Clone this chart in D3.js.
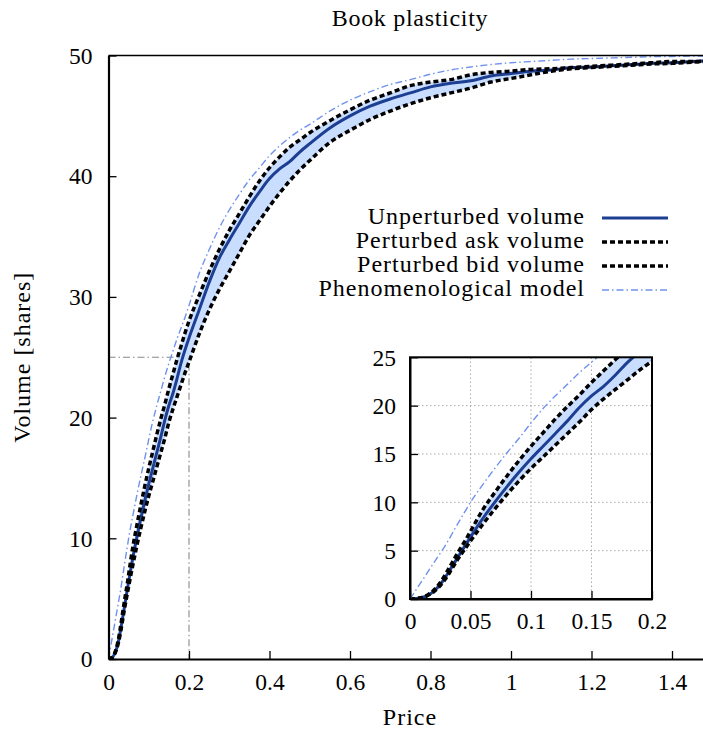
<!DOCTYPE html>
<html><head><meta charset="utf-8">
<script src="https://cdn.jsdelivr.net/npm/d3@7"></script>
<style>
html,body{margin:0;padding:0;background:#fff;}
svg{display:block;}
svg text{font-family:"Liberation Serif","DejaVu Serif",serif !important;}
</style></head><body>
<svg id="c" width="703" height="729"></svg>
<script>
// ---- data ----
const price = [0, 0.005, 0.01, 0.015, 0.02, 0.025, 0.03, 0.035, 0.04, 0.045, 0.05,
  0.06, 0.07, 0.08, 0.09, 0.1, 0.11, 0.12, 0.13, 0.14, 0.15, 0.16, 0.17, 0.18, 0.19, 0.2,
  0.225, 0.25, 0.275, 0.3, 0.325, 0.35, 0.375, 0.4, 0.425, 0.45, 0.475, 0.5,
  0.55, 0.6, 0.65, 0.7, 0.75, 0.8, 0.85, 0.9, 0.95, 1.0, 1.05, 1.1, 1.15, 1.2, 1.25, 1.3, 1.35, 1.4, 1.45, 1.5];
const unperturbed = [0, 0.05, 0.15, 0.4, 0.85, 1.5, 2.4, 3.4, 4.4, 5.4, 6.4,
  8.3, 10.0, 11.6, 13.1, 14.5, 15.8, 17.1, 18.4, 19.8, 21.0, 22.0, 23.2, 24.5, 25.6, 26.6,
  28.9, 31.2, 33.2, 34.7, 36.1, 37.5, 38.7, 39.8, 40.6, 41.2, 42.0, 42.7,
  44.0, 45.0, 45.8, 46.4, 46.9, 47.4, 47.7, 47.9, 48.3, 48.5, 48.7, 48.8, 49.0, 49.05, 49.15, 49.25, 49.35, 49.4, 49.5, 49.6];
const askVolume = [0, 0.05, 0.15, 0.45, 0.95, 1.7, 2.7, 3.8, 4.9, 5.9, 7.0,
  9.2, 11.0, 12.7, 14.3, 15.8, 17.2, 18.6, 19.9, 21.1, 22.4, 23.6, 24.8, 25.9, 27.0, 28.0,
  30.1, 32.1, 33.9, 35.5, 36.9, 38.3, 39.6, 40.7, 41.6, 42.4, 43.0, 43.6,
  44.6, 45.5, 46.3, 46.9, 47.5, 47.8, 48.0, 48.4, 48.6, 48.7, 48.85, 48.9, 49.0, 49.1, 49.2, 49.3, 49.4, 49.5, 49.5, 49.6];
const bidVolume = [0, 0.05, 0.15, 0.4, 0.8, 1.4, 2.2, 3.2, 4.2, 5.1, 6.0,
  7.7, 9.3, 10.8, 12.2, 13.5, 14.7, 15.9, 17.1, 18.3, 19.6, 20.7, 21.7, 22.7, 23.7, 24.6,
  26.9, 28.9, 30.6, 32.1, 33.6, 35.1, 36.3, 37.5, 38.6, 39.6, 40.5, 41.3,
  42.8, 43.8, 44.7, 45.4, 46.0, 46.5, 46.9, 47.3, 47.8, 48.1, 48.4, 48.7, 48.9, 49.0, 49.1, 49.2, 49.3, 49.35, 49.45, 49.55];
const modelVolume = [0, 0.95, 1.9, 2.85, 3.8, 4.75, 5.7, 6.8, 7.9, 8.95, 10.0,
  11.8, 13.5, 15.1, 16.6, 18.2, 19.7, 21.0, 22.2, 23.4, 24.5, 25.5, 26.5, 27.4, 28.3, 29.3,
  31.9, 33.9, 35.7, 37.2, 38.5, 39.7, 40.7, 41.7, 42.5, 43.2, 43.8, 44.3,
  45.4, 46.3, 47.0, 47.6, 48.0, 48.45, 48.8, 49.05, 49.25, 49.4, 49.5, 49.6, 49.7, 49.75, 49.8, 49.85, 49.9, 49.92, 49.95, 49.97];
const xTicks = [0, 0.2, 0.4, 0.6, 0.8, 1, 1.2, 1.4];
const yTicks = [0, 10, 20, 30, 40, 50];
const insetXTicks = [0, 0.05, 0.1, 0.15, 0.2];
const insetYTicks = [0, 5, 10, 15, 20, 25];
const refPrice = 0.2, refVolume = 25;
const legendLabels = ["Unperturbed volume", "Perturbed ask volume", "Perturbed bid volume", "Phenomenological model"];

// ---- styles ----
const FS = 23.5;
const C_FILL = "#c9ddff", C_SOLID = "#1c3f94", C_MODEL = "#6f92ee";
const rows = price.map((p, i) => ({p, u: unperturbed[i], a: askVolume[i], b: bidVolume[i], m: modelVolume[i]}));

const svg = d3.select("#c");
const defs = svg.append("defs");

const x = d3.scaleLinear().domain([0, 1.5]).range([108.5, 712.25]);
const y = d3.scaleLinear().domain([0, 50]).range([659, 55.5]);
const xi = d3.scaleLinear().domain([0, 0.2]).range([410, 652]);
const yi = d3.scaleLinear().domain([0, 25]).range([599, 357.3]);

defs.append("clipPath").attr("id", "cm").append("rect")
  .attr("x", x(0)).attr("y", y(50)).attr("width", x(1.5) - x(0)).attr("height", y(0) - y(50));
defs.append("clipPath").attr("id", "ci").append("rect")
  .attr("x", xi(0)).attr("y", yi(25)).attr("width", xi(0.2) - xi(0)).attr("height", yi(0) - yi(25));

function drawCurves(g, xs, ys) {
  const area = d3.area().x(d => xs(d.p)).y0(d => ys(d.b)).y1(d => ys(d.a)).curve(d3.curveMonotoneX);
  g.append("path").datum(rows).attr("d", area).attr("fill", C_FILL);
  const line = key => d3.line().x(d => xs(d.p)).y(d => ys(d[key])).curve(d3.curveMonotoneX);
  g.append("path").datum(rows).attr("d", line("u")).attr("fill", "none")
    .attr("stroke", C_SOLID).attr("stroke-width", 3);
  ["a", "b"].forEach(k => g.append("path").datum(rows).attr("d", line(k)).attr("fill", "none")
    .attr("stroke", "#000").attr("stroke-width", 3.5).attr("stroke-dasharray", "5,3"));
  g.append("path").datum(rows).attr("d", line("m")).attr("fill", "none")
    .attr("stroke", C_MODEL).attr("stroke-width", 1.4).attr("stroke-dasharray", "7,3,1.5,3");
}

// ---- main plot ----
const gm = svg.append("g").attr("clip-path", "url(#cm)");
gm.append("path")
  .attr("d", `M${x(0)},${y(refVolume)}H${x(refPrice)}V${y(0)}`)
  .attr("fill", "none").attr("stroke", "#888").attr("stroke-width", 1.1)
  .attr("stroke-dasharray", "7,3,1.5,3");
drawCurves(gm, x, y);

// top border
svg.append("line").attr("x1", x(0)).attr("x2", x(1.5)).attr("y1", y(50)).attr("y2", y(50))
  .attr("stroke", "#000").attr("stroke-width", 1.6);

function styleAxis(g, sw) {
  g.attr("font-family", null);
  g.select(".domain").attr("stroke", "#000").attr("stroke-width", sw);
  g.selectAll(".tick line").attr("stroke", "#000").attr("stroke-width", 1.3);
  g.selectAll(".tick text").attr("font-size", FS).attr("fill", "#000");
}
const fmt = d => String(d);
const ax = svg.append("g").attr("transform", `translate(0,${y(0)})`)
  .call(d3.axisBottom(x).tickValues(xTicks).tickFormat(fmt).tickSize(-8).tickSizeOuter(0).tickPadding(14));
styleAxis(ax, 2.2);
const ay = svg.append("g").attr("transform", `translate(${x(0)},0)`)
  .call(d3.axisLeft(y).tickValues(yTicks).tickFormat(fmt).tickSize(-8).tickSizeOuter(0).tickPadding(16));
styleAxis(ay, 2.2);
ay.selectAll(".tick text").attr("dy", "0.33em");

// title and axis labels
const word = sel => sel.attr("font-size", 24).attr("letter-spacing", "1px").attr("fill", "#000");
svg.append("text").attr("x", 410).attr("y", 26).attr("text-anchor", "middle").text("Book plasticity").call(word).attr("letter-spacing", "0.7px");
svg.append("text").attr("x", 410).attr("y", 725).attr("text-anchor", "middle").text("Price").call(word);
svg.append("text").attr("transform", `translate(30,${(y(0) + y(50)) / 2}) rotate(-90)`)
  .attr("text-anchor", "middle").text("Volume [shares]").call(word);

// ---- legend ----
const lg = svg.append("g");
legendLabels.forEach((lab, i) => {
  const cy = 218 + i * 24;
  lg.append("text").attr("x", 585).attr("y", cy + 6).attr("text-anchor", "end").text(lab).call(word);
  const ln = lg.append("line").attr("x1", 602).attr("x2", 668).attr("y1", cy).attr("y2", cy).attr("fill", "none");
  if (i === 0) ln.attr("stroke", C_SOLID).attr("stroke-width", 3);
  else if (i < 3) ln.attr("stroke", "#000").attr("stroke-width", 3.5).attr("stroke-dasharray", "5,3");
  else ln.attr("stroke", C_MODEL).attr("stroke-width", 1.4).attr("stroke-dasharray", "7,3,1.5,3");
});

// ---- inset ----
const gi = svg.append("g");
gi.append("rect").attr("x", xi(0)).attr("y", yi(25)).attr("width", xi(0.2) - xi(0)).attr("height", yi(0) - yi(25)).attr("fill", "#fff");
const grid = gi.append("g");
insetXTicks.slice(1, -1).forEach(t => grid.append("line").attr("x1", xi(t)).attr("x2", xi(t)).attr("y1", yi(0)).attr("y2", yi(25)));
insetYTicks.slice(1, -1).forEach(t => grid.append("line").attr("x1", xi(0)).attr("x2", xi(0.2)).attr("y1", yi(t)).attr("y2", yi(t)));
grid.selectAll("line").attr("stroke", "#aaa").attr("stroke-width", 1).attr("stroke-dasharray", "1.5,2.5");
const gic = gi.append("g").attr("clip-path", "url(#ci)");
drawCurves(gic, xi, yi);
const iax = gi.append("g").attr("transform", `translate(0,${yi(0)})`)
  .call(d3.axisBottom(xi).tickValues(insetXTicks).tickFormat(fmt).tickSize(-8).tickSizeOuter(0).tickPadding(13));
styleAxis(iax, 2);
const iay = gi.append("g").attr("transform", `translate(${xi(0)},0)`)
  .call(d3.axisLeft(yi).tickValues(insetYTicks).tickFormat(fmt).tickSize(-8).tickSizeOuter(0).tickPadding(14));
styleAxis(iay, 2);
iay.selectAll(".tick text").attr("dy", "0.33em");
gi.append("rect").attr("x", xi(0)).attr("y", yi(25)).attr("width", xi(0.2) - xi(0)).attr("height", yi(0) - yi(25))
  .attr("fill", "none").attr("stroke", "#000").attr("stroke-width", 2);
</script>
</body></html>
